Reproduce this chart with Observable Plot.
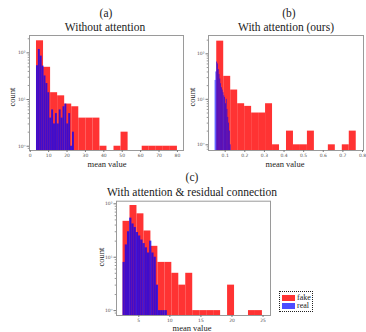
<!DOCTYPE html>
<html><head><meta charset="utf-8">
<script src="https://cdn.jsdelivr.net/npm/d3@7"></script>
<script src="https://cdn.jsdelivr.net/npm/@observablehq/plot@0.6"></script>
<style>
body{margin:0;background:#fff;}
#root{position:relative;width:366px;height:332px;overflow:hidden;font-family:"Liberation Serif",serif;color:#222;}
.t{position:absolute;white-space:nowrap;transform:translate(-50%,-50%);}
.plot{position:absolute;}
</style></head><body><div id="root"></div>
<script>
// ---- data (histogram counts, 20 bins each) ----
const aRed = [181,49,14,12,8,7,4,4,4,1,0,1,2,0,0,1,1,1,1,1];
const aRedRange = [3.4, 80];
const aBlue = [53,118,85,52,32,22,14,4,6,3,5,3,6,4,7,8,3,5,1,2];
const aBlueRange = [3.4, 24];

const bRed = [190,32,16,8,7,5,5,8,1,0,2,1,1,2,0,0,1,0,1,2];
const bRedRange = [0.057, 0.768];
const bBlue = [26,40,66,60,45,35,28,22,18,16,14,12,11,8,10,6,4,3,2,1];
const bBlueRange = [0.049, 0.13];

const cRed = [47,93,65,31,16,8,8,5,3,5,1,1,1,1,0,3,0,0,1,1];
const cRedRange = [2.46, 24.9];
const cBlue = [8,17,30,54,42,36,29,25,21,18,15,12,20,12,10,3,1,1,1,1];
const cBlueRange = [2.46, 9.6];

const aTicks = [0,10,20,30,40,50,60,70,80];
const bTicks = [0.1,0.2,0.3,0.4,0.5,0.6,0.7,0.8];
const cTicks = [5,10,15,20,25];
const yTicks = [1,10,100];
const yTickLabels = ["10\u2070","10\u00B9","10\u00B2"];
const legendLabels = ["fake","real"];

const RED = "#ff3333", BLUE = "#0000ff";

function bins(counts, [lo, hi]) {
  const n = counts.length, w = (hi - lo) / n;
  return counts.map((c, i) => ({x1: lo + i * w, x2: lo + (i + 1) * w, c})).filter(d => d.c > 0);
}

const root = document.getElementById("root");
function txt(s, x, y, size, extra = "") {
  const d = document.createElement("div");
  d.className = "t"; d.textContent = s;
  d.style.left = x + "px"; d.style.top = y + "px"; d.style.fontSize = size + "px";
  d.style.cssText += extra;
  root.appendChild(d);
}

function hist({red, redRange, blue, blueRange, xDomain, yDomain, ticks, tickFmt, left, top, width, height, m}) {
  const minor = [];
  for (let e = -1; e <= 3; e++) for (let k = 2; k <= 9; k++) { const v = k * 10 ** e; if (v >= yDomain[0] && v <= yDomain[1]) minor.push(v); }
  const p = Plot.plot({
    width, height,
    marginLeft: m[3], marginRight: m[1], marginTop: m[0], marginBottom: m[2],
    style: {fontFamily: "DejaVu Sans", background: "transparent", overflow: "visible"},
    x: {domain: xDomain, label: null},
    y: {type: "log", domain: yDomain, clamp: true, label: null},
    marks: [
      Plot.rect(bins(red, redRange), {x1: "x1", x2: "x2", y1: 0.1, y2: "c", fill: RED}),
      Plot.rect(bins(blue, blueRange), {x1: "x1", x2: "x2", y1: 0.1, y2: "c", fill: BLUE, fillOpacity: 0.75}),
      Plot.frame({stroke: "#9a9a9a", strokeWidth: 1}),
      Plot.axisX({ticks, tickFormat: tickFmt, tickSize: 2, tickPadding: 1.5, fontSize: 4.5, stroke: "#777", fill: "#555"}),
      Plot.axisY({ticks: yTicks, tickFormat: d => yTickLabels[yTicks.indexOf(d)], tickSize: 2.5, tickPadding: 1.5, fontSize: 4.5, stroke: "#777", fill: "#555"}),
      Plot.axisY({ticks: minor, tickFormat: () => "", tickSize: 1.3, stroke: "#999", label: null})
    ]
  });
  p.classList.add("plot");
  p.style.left = left + "px"; p.style.top = top + "px";
  root.appendChild(p);
}

hist({red: aRed, redRange: aRedRange, blue: aBlue, blueRange: aBlueRange,
  xDomain: [-0.4, 83.3], yDomain: [0.81, 235], ticks: aTicks, tickFmt: d => String(d),
  left: 0, top: 30, width: 190, height: 135, m: [5, 7, 15, 29]});
hist({red: bRed, redRange: bRedRange, blue: bBlue, blueRange: bBlueRange,
  xDomain: [0.015, 0.805], yDomain: [0.75, 253], ticks: bTicks, tickFmt: d => d.toFixed(1),
  left: 183, top: 30, width: 183, height: 135, m: [5, 3, 15, 25]});
hist({red: cRed, redRange: cRedRange, blue: cBlue, blueRange: cBlueRange,
  xDomain: [1.41, 26.2], yDomain: [0.81, 112], ticks: cTicks, tickFmt: d => String(d),
  left: 90, top: 195, width: 190, height: 135, m: [5.7, 10, 15, 26]});

// titles & axis labels
txt("(a)", 106, 13, 11.5);
txt("Without attention", 105, 27, 11.5);
txt("(b)", 289, 13, 11.5);
txt("With attention (ours)", 286, 27, 11.5);
txt("(c)", 192, 177, 11.5);
txt("With attention & residual connection", 192, 192, 11.5);
txt("count", 12, 97, 8.5, "transform:translate(-50%,-50%) rotate(-90deg);");
txt("count", 192, 97, 8.5, "transform:translate(-50%,-50%) rotate(-90deg);");
txt("count", 100.5, 257, 8.5, "transform:translate(-50%,-50%) rotate(-90deg);");
txt("mean value", 107, 164, 8.5);
txt("mean value", 285, 164, 8.5);
txt("mean value", 192, 328, 8.5);

// legend
const lg = document.createElement("div");
lg.style.cssText = "position:absolute;left:279px;top:291px;width:34px;height:21px;border:1px dotted #222;box-sizing:border-box;background:#fff;";
root.appendChild(lg);
[[RED, 1], [BLUE, 0.7]].forEach(([c, o], i) => {
  const s = document.createElement("div");
  s.style.cssText = `position:absolute;left:2px;top:${3 + i * 8}px;width:13px;height:6px;background:${c};opacity:${o};`;
  lg.appendChild(s);
  const t = document.createElement("div");
  t.textContent = legendLabels[i];
  t.style.cssText = `position:absolute;left:17px;top:${i * 8}px;font-size:8px;line-height:11px;`;
  lg.appendChild(t);
});
</script></body></html>
